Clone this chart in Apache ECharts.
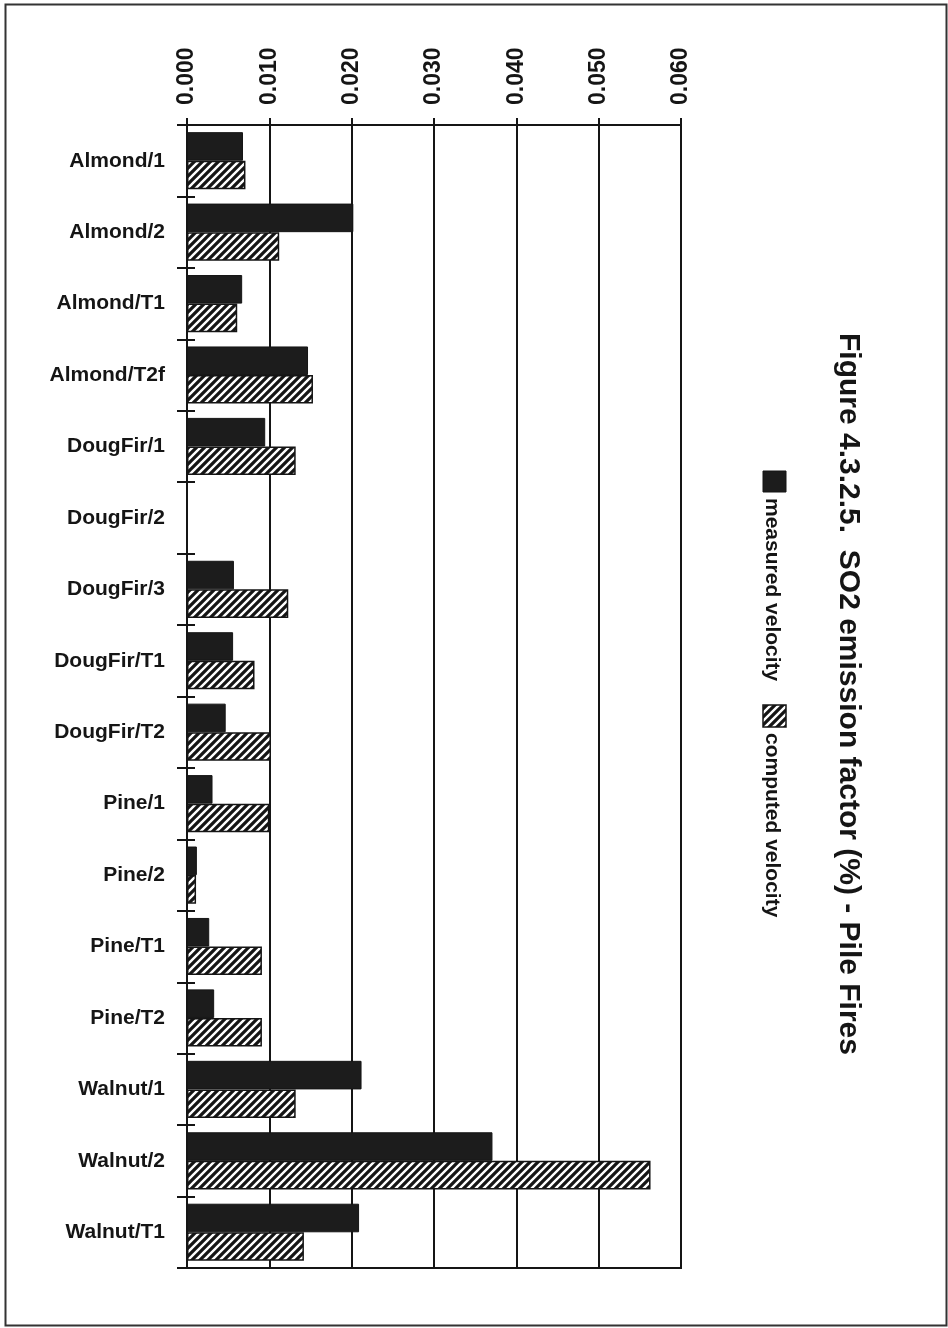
<!DOCTYPE html>
<html>
<head>
<meta charset="utf-8">
<script src="https://cdn.jsdelivr.net/npm/echarts@6/dist/echarts.min.js"></script>
<style>
  html, body { margin: 0; padding: 0; background: #ffffff; }
  #chart { width: 948px; height: 1328px; }
</style>
</head>
<body>
<div id="chart"></div>
<script>
// SO2 emission factor (%) for pile fires, by fuel type and test
const categories = [
  'Almond/1', 'Almond/2', 'Almond/T1', 'Almond/T2f',
  'DougFir/1', 'DougFir/2', 'DougFir/3', 'DougFir/T1', 'DougFir/T2',
  'Pine/1', 'Pine/2', 'Pine/T1', 'Pine/T2',
  'Walnut/1', 'Walnut/2', 'Walnut/T1'
];
const measuredVelocity = [
  0.0068, 0.0202, 0.0067, 0.0147,
  0.0095, null, 0.0057, 0.0056, 0.0047,
  0.0031, 0.0012, 0.0027, 0.0033,
  0.0212, 0.0371, 0.0209
];
const computedVelocity = [
  0.0071, 0.0112, 0.0061, 0.0153,
  0.0132, null, 0.0123, 0.0082, 0.0102,
  0.0100, 0.0011, 0.0091, 0.0091,
  0.0132, 0.0563, 0.0142
];
const seriesNames = ['measured velocity', 'computed velocity'];
const titleText = 'Figure 4.3.2.5.  SO2 emission factor (%) - Pile Fires';
const axisMin = 0;
const axisMax = 0.06;
const axisStep = 0.01;

const FONT = '"Liberation Sans", Arial, Helvetica, sans-serif';
const INK = '#151515';

// diagonal "////" hatch used for the computed-velocity bars
function makeHatch() {
  const s = 8;
  const c = document.createElement('canvas');
  c.width = s; c.height = s;
  const g = c.getContext('2d');
  g.fillStyle = INK;
  g.fillRect(0, 0, s, s);
  g.strokeStyle = '#ffffff';
  g.lineWidth = 2.4;
  g.beginPath();
  g.moveTo(-2, 2); g.lineTo(2, -2);
  g.moveTo(0, s); g.lineTo(s, 0);
  g.moveTo(s - 2, s + 2); g.lineTo(s + 2, s - 2);
  g.stroke();
  return c;
}
const hatch = makeHatch();
const hatchFill = { image: hatch, repeat: 'repeat' };

const chart = echarts.init(document.getElementById('chart'), null, { renderer: 'canvas' });

const rot = -Math.PI / 2; // clockwise quarter turn
const inkLine = { color: INK, width: 2 };

chart.setOption({
  animation: false,
  backgroundColor: '#ffffff',
  grid: {
    left: 187, right: 267, top: 125, bottom: 60,
    show: true, borderColor: INK, borderWidth: 2,
    backgroundColor: 'transparent'
  },
  xAxis: [
    {
      type: 'value',
      position: 'top',
      min: axisMin, max: axisMax, interval: axisStep,
      axisLine: { show: true, lineStyle: inkLine },
      axisTick: { show: true, length: 7, lineStyle: inkLine },
      splitLine: { show: true, lineStyle: inkLine },
      axisLabel: {
        rotate: -90, margin: 20,
        color: INK, fontFamily: FONT, fontSize: 23, fontWeight: 'bold',
        formatter: v => v.toFixed(3)
      }
    },
    {
      // inner half of the crossing ticks on the value axis
      type: 'value',
      position: 'top',
      min: axisMin, max: axisMax, interval: axisStep,
      axisLine: { show: false },
      axisTick: { show: true, inside: true, length: 5, lineStyle: inkLine },
      splitLine: { show: false },
      axisLabel: { show: false }
    }
  ],
  yAxis: [
    {
      type: 'category',
      data: categories,
      inverse: true,
      axisLine: { show: true, lineStyle: inkLine },
      axisTick: { show: true, length: 10, lineStyle: inkLine },
      axisLabel: {
        margin: 22, color: INK, fontFamily: FONT, fontSize: 21, fontWeight: 'bold'
      }
    },
    {
      // inner half of the crossing category ticks
      type: 'category',
      data: categories,
      inverse: true,
      position: 'left',
      axisLine: { show: false },
      axisTick: { show: true, inside: true, length: 8, lineStyle: inkLine },
      axisLabel: { show: false }
    }
  ],
  series: [
    {
      name: seriesNames[0], type: 'bar', data: measuredVelocity,
      barGap: 0, barCategoryGap: '20%',
      itemStyle: { color: '#1c1c1c', borderColor: INK, borderWidth: 1 }
    },
    {
      name: seriesNames[1], type: 'bar', data: computedVelocity,
      barGap: 0, barCategoryGap: '20%',
      itemStyle: { color: hatchFill, borderColor: INK, borderWidth: 1.5 }
    }
  ],
  graphic: [
    // page frame
    {
      type: 'rect', left: 3, top: 2, silent: true,
      shape: { width: 941, height: 1321 },
      style: { fill: 'none', stroke: '#333', lineWidth: 2 }
    },
    // title, set sideways
    {
      type: 'text', x: 848, y: 694, rotation: rot,
      style: {
        text: titleText, x: 0, y: 0,
        align: 'center', verticalAlign: 'middle',
        textAlign: 'center', textVerticalAlign: 'middle',
        font: 'bold 30px ' + FONT, fill: INK
      }
    },
    // legend swatches and labels
    {
      type: 'rect', x: 763, y: 471,
      shape: { width: 23, height: 21 },
      style: { fill: '#1c1c1c', stroke: INK, lineWidth: 1 }
    },
    {
      type: 'text', x: 772, y: 498, rotation: rot,
      style: {
        text: seriesNames[0], x: 0, y: 0,
        align: 'left', verticalAlign: 'middle',
        textAlign: 'left', textVerticalAlign: 'middle',
        font: 'bold 21px ' + FONT, fill: INK
      }
    },
    {
      type: 'rect', x: 763, y: 705,
      shape: { width: 23, height: 22 },
      style: { fill: hatchFill, stroke: INK, lineWidth: 1.5 }
    },
    {
      type: 'text', x: 772, y: 733, rotation: rot,
      style: {
        text: seriesNames[1], x: 0, y: 0,
        align: 'left', verticalAlign: 'middle',
        textAlign: 'left', textVerticalAlign: 'middle',
        font: 'bold 21px ' + FONT, fill: INK
      }
    }
  ]
});
</script>
</body>
</html>
